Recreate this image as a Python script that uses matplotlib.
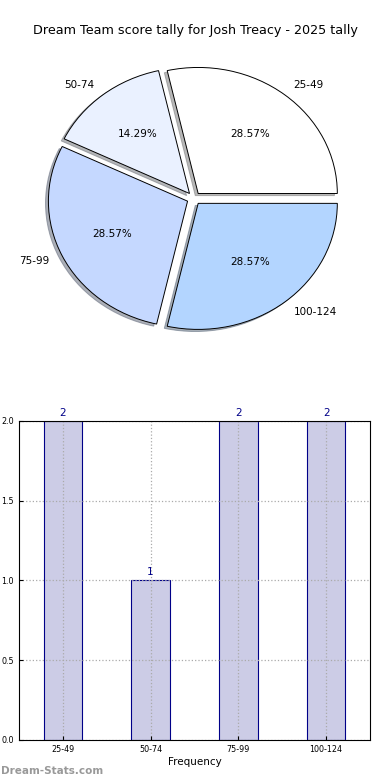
import matplotlib
matplotlib.use("Agg")
import matplotlib.pyplot as plt

# data
categories = ['25-49', '50-74', '75-99', '100-124']
counts = [2, 1, 2, 2]
pie_colors = ['#ffffff', '#eaf1ff', '#c5d8ff', '#b3d5ff']
title = 'Dream Team score tally for Josh Treacy - 2025 tally'

fig = plt.figure(figsize=(3.9, 7.8), dpi=100)
fig.text(0.5, 0.961, title, ha='center', va='center', fontsize=9.2)

# pie chart
ax1 = fig.add_axes([0.051, 0.5436, 0.892, 0.404])
wedges, texts, autotexts = ax1.pie(
    counts, labels=categories, colors=pie_colors, autopct='%.2f%%',
    explode=[0.05] * len(counts),
    shadow={'ox': -0.015, 'oy': -0.012, 'shade': 0.55}, startangle=0,
    wedgeprops={'edgecolor': 'black', 'linewidth': 0.7},
    textprops={'fontsize': 7.5})
ax1.set_aspect('auto')
ax1.set_xlim(-1.25, 1.25)
ax1.set_ylim(-1.25, 1.25)

# bar chart
ax2 = fig.add_axes([0.0487, 0.0513, 0.9, 0.409])
x = list(range(len(categories)))
bars = ax2.bar(x, counts, width=0.44, color='#ccccE6', edgecolor='#000088',
               linewidth=0.8, zorder=2)
for xi, c in zip(x, counts):
    ax2.text(xi, c + 0.02, str(c), ha='center', va='bottom', color='#000088', fontsize=7.5)
ax2.set_xlim(-0.5, 3.5)
ax2.set_ylim(0, 2.0)
ax2.set_yticks([0.0, 0.5, 1.0, 1.5, 2.0])
ax2.set_yticklabels(['0.0', '0.5', '1.0', '1.5', '2.0'])
ax2.set_xticks(x)
ax2.set_xticklabels(categories)
ax2.tick_params(labelsize=5.8, length=3, direction='in')
ax2.grid(True, linestyle=':', color='#aaaaaa', linewidth=0.9, zorder=3)
ax2.set_axisbelow(False)
for sp in ax2.spines.values():
    sp.set_zorder(4)
ax2.set_xlabel('Frequency', fontsize=7.5, labelpad=2)

fig.text(0.003, 0.012, 'Dream-Stats.com', color='#999999', fontsize=7.5,
         fontweight='bold', ha='left', va='center')

plt.savefig('out.png', dpi=100)
